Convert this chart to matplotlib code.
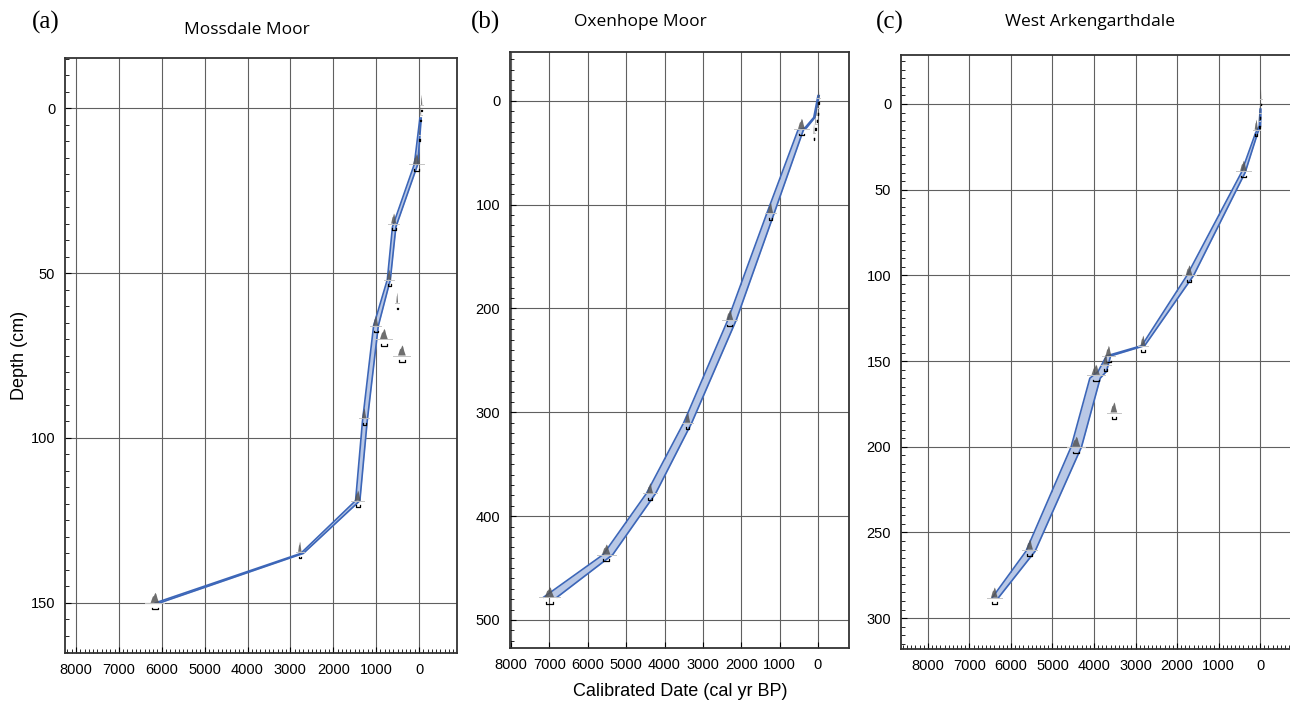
import numpy as np
import matplotlib
matplotlib.use("Agg")
import matplotlib.pyplot as plt
from matplotlib.ticker import MultipleLocator

################################################################################
# Age-depth model data (cal yr BP vs depth in cm)
################################################################################

# (a) Mossdale Moor - modelled range
a_model_depth = [3, 17, 36, 52, 66, 95, 119, 135, 150]
a_model_young = [-50, 30, 540, 670, 950, 1210, 1380, 2700, 6050]
a_model_old = [-20, 110, 620, 740, 1060, 1320, 1480, 2760, 6150]
# (a) dated levels
a_date_age = [-60, -40, -10, 60, 590, 700, 510, 1010, 820, 400, 1280, 1430, 2780, 6160]
a_date_depth = [-1, 2, 8, 17, 35, 52, 59, 66, 70, 75, 94, 119, 134.5, 150]
a_date_spread = [15, 10, 10, 80, 60, 50, 20, 60, 90, 90, 50, 70, 40, 100]

# (b) Oxenhope Moor - modelled range
b_model_depth = [-5, 16, 26, 28, 108, 211, 310, 378, 437, 478]
b_model_young = [-30, 80, 300, 380, 1140, 2130, 3290, 4230, 5350, 6800]
b_model_old = [0, 110, 340, 520, 1330, 2350, 3500, 4470, 5600, 7150]
# (b) dated levels
b_date_age = [-20, 0, 30, 60, 430, 104, 1240, 2300, 3400, 4380, 5520, 7000]
b_date_depth = [-3, 7, 14, 22, 27, 31, 108, 211, 310, 378, 437, 478]
b_date_spread = [15, 10, 10, 10, 90, 10, 70, 90, 70, 80, 110, 120]

# (c) West Arkengarthdale - modelled range
c_model_depth = [3, 13, 17, 40, 100, 141, 147, 156, 160, 200, 261, 288]
c_model_young = [-20, -10, 60, 360, 1600, 2780, 3600, 3700, 3850, 4300, 5420, 6300]
c_model_old = [0, 20, 110, 450, 1760, 2850, 3700, 3900, 4100, 4550, 5640, 6450]
# (c) dated levels
c_date_age = [-20, 0, 20, 90, 400, 1710, 2820, 3650, 3720, 3960, 3520, 4430, 5550, 6400]
c_date_depth = [-3, 5, 10, 15, 39, 100, 141, 147, 152, 158, 180, 200, 260, 288]
c_date_spread = [10, 10, 10, 40, 80, 80, 60, 70, 60, 100, 80, 100, 80, 80]

x_ticks = [0, 1000, 2000, 3000, 4000, 5000, 6000, 7000, 8000]

################################################################################
# Plotting
################################################################################

fig = plt.figure(figsize = (12.9, 7.04), dpi = 100)

band_fill = "#b9c8e6"
band_edge = "#3c66b8"


def draw_date(ax, age, depth, spread, yspan):
    h = 0.017 * yspan
    # thin calibration baseline
    ax.plot([age - 2.2 * spread, age + 2.2 * spread], [depth, depth],
            color = "#c4c4c4", lw = 0.7, zorder = 3)
    # probability bump
    xs = [age - spread, age - 0.6 * spread, age - 0.35 * spread, age - 0.1 * spread,
          age + 0.2 * spread, age + 0.5 * spread, age + spread]
    ys = [depth, depth - 0.45 * h, depth - 0.85 * h, depth - h, depth - 0.7 * h,
          depth - 0.6 * h, depth]
    ax.fill(xs, ys, color = "#555555", alpha = 0.85, lw = 0, zorder = 4)
    # range bracket below
    off = 0.011 * yspan
    tk = 0.003 * yspan
    w = 0.7 * spread
    ax.plot([age - w, age - w, age + w, age + w],
            [depth + off - tk, depth + off, depth + off, depth + off - tk],
            color = "black", lw = 0.9, zorder = 4)


def draw_panel(rect, xlim, ylim, ystep, yminor, xminor, m_depth, m_young, m_old,
               d_age, d_depth, d_spread, show_right = True):
    ax = fig.add_axes(rect)
    ax.set_xlim(*xlim)
    ax.set_ylim(*ylim)
    yspan = ylim[0] - ylim[1]

    ax.fill_betweenx(m_depth, m_young, m_old, color = band_fill, lw = 0, zorder = 2)
    ax.plot(m_young, m_depth, color = band_edge, lw = 1.2, zorder = 3)
    ax.plot(m_old, m_depth, color = band_edge, lw = 1.2, zorder = 3)

    for a, d, s in zip(d_age, d_depth, d_spread):
        draw_date(ax, a, d, s, yspan)

    ax.set_xticks(x_ticks)
    ax.set_yticks(np.arange(0, ylim[0], ystep))
    ax.yaxis.set_minor_locator(MultipleLocator(yminor))
    if xminor:
        ax.xaxis.set_minor_locator(MultipleLocator(100))
    ax.grid(True, which = "major", color = "#606060", lw = 0.8)
    ax.set_axisbelow(True)
    ax.tick_params(which = "both", direction = "in", top = False, right = False,
                   labelsize = 10.5, pad = 7)
    ax.tick_params(which = "major", length = 4, width = 0.8)
    ax.tick_params(which = "minor", length = 3, width = 0.6)
    for lab in ax.get_xticklabels() + ax.get_yticklabels():
        lab.set_family("Liberation Sans")
    for sp in ax.spines.values():
        sp.set_linewidth(1.3)
        sp.set_color("#333333")
    if not show_right:
        ax.spines["right"].set_visible(False)
    return ax


draw_panel([0.0504, 0.0724, 0.3039, 0.8452], (8256, -886), (165.2, -15.2), 50, 5, True,
           a_model_depth, a_model_young, a_model_old, a_date_age, a_date_depth, a_date_spread)
draw_panel([0.3953, 0.0795, 0.2628, 0.8466], (8030, -807), (527, -47), 100, 10, False,
           b_model_depth, b_model_young, b_model_old, b_date_age, b_date_depth, b_date_spread)
draw_panel([0.6984, 0.0781, 0.3016, 0.8438], (8650, -721), (318, -28.6), 50, 5, True,
           c_model_depth, c_model_young, c_model_old, c_date_age, c_date_depth, c_date_spread,
           show_right = False)

# Site titles and panel letters
for x, y, txt in [(247, 30, "Mossdale Moor"), (640, 22, "Oxenhope Moor"),
                  (1090, 22, "West Arkengarthdale")]:
    fig.text(x / 1290, 1 - y / 704, txt, ha = "center", va = "center",
             fontsize = 12.5, family = "Open Sans")
for x, txt in [(46, "(a)"), (485, "(b)"), (890, "(c)")]:
    fig.text(x / 1290, 1 - 22 / 704, txt, ha = "center", va = "center",
             fontsize = 18, family = "Liberation Serif")

fig.text(20 / 1290, 1 - 355 / 704, "Depth (cm)", rotation = 90, ha = "center",
         va = "center", fontsize = 13, family = "Liberation Sans")
fig.text(680 / 1290, 1 - 692 / 704, "Calibrated Date (cal yr BP)", ha = "center",
         va = "center", fontsize = 13, family = "Liberation Sans")

fig.savefig("out.png", dpi = 100)
plt.close()
